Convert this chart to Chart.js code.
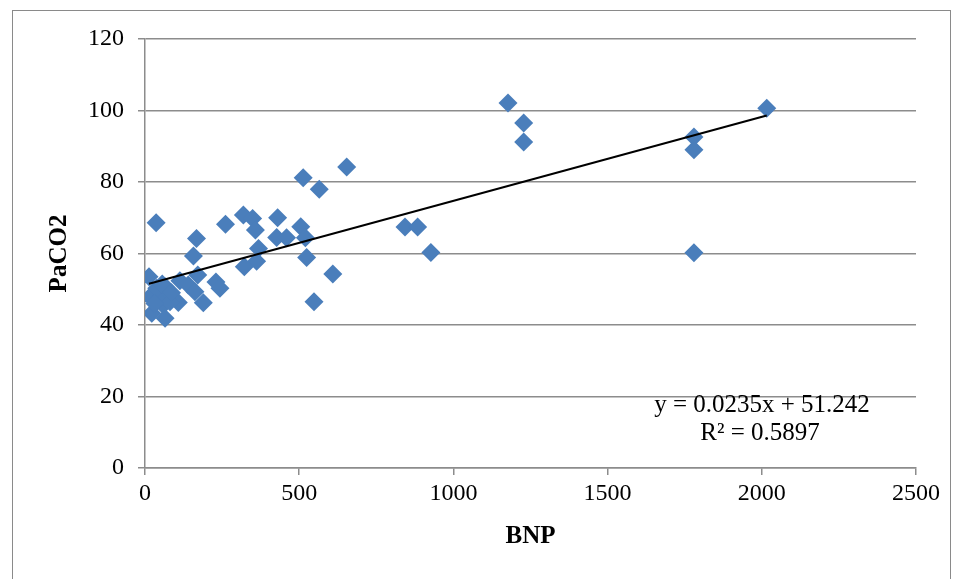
<!DOCTYPE html>
<html>
<head>
<meta charset="utf-8">
<script src="https://cdn.jsdelivr.net/npm/chart.js@4"></script>
<style>
    body { margin: 0; background: #fff; }
    #moldura { position: absolute; left: 12px; top: 10px; width: 937px; height: 600px; border: 1px solid #8a8a8a; }
    #grafico { position: absolute; left: 0; top: 0; }
</style>
</head>
<body>
<div id="moldura"></div>
<canvas id="grafico" width="959" height="579"></canvas>
<script>
// Dados: BNP (x) e PaCO2 (y)
const bnp = [13, 36, 167, 261, 319, 349, 358, 430, 505, 427, 459, 520, 368, 362, 322, 524,
    157, 513, 565, 654, 609, 548, 171, 113, 140, 230, 243, 162, 189, 108, 65, 16,
    54, 59, 22, 65, 38, 81, 56, 86, 32, 843, 884, 927, 1177, 1228, 1228, 1780,
    1780, 1780, 2016]
const paco2 = [53.5, 68.6, 64.2, 68.2, 70.8, 69.8, 66.6, 70.0, 67.5, 64.5, 64.4, 64.4, 61.4, 57.8, 56.3, 58.9,
    59.3, 81.2, 78.0, 84.2, 54.3, 46.5, 54.0, 52.4, 51.2, 52.0, 50.3, 49.3, 46.2, 46.3, 50.7, 47.9,
    47.9, 45.6, 43.3, 41.9, 50.3, 46.5, 51.5, 49.0, 46.0, 67.4, 67.4, 60.3, 102.1, 96.5, 91.2, 92.6,
    89.0, 60.2, 100.6]

// Linha de tendência (regressão linear do Excel)
const inclinacao = 0.0235
const intercepto = 51.242
const r2 = 0.5897

const pontos = bnp.map((x, i) => ({ x: x, y: paco2[i] }))
const xMin = Math.min(...bnp)
const xMax = Math.max(...bnp)
const tendencia = [
    { x: xMin, y: intercepto + inclinacao * xMin },
    { x: xMax, y: intercepto + inclinacao * xMax }
]

const cinza = '#8c8c8c'
const fonte = 'Liberation Serif'

// Plugin simples para escrever a equação da tendência
const equacao = {
    id: 'equacao',
    afterDatasetsDraw(chart) {
        const { ctx, chartArea } = chart
        const cx = chartArea.right - 154
        ctx.save()
        ctx.fillStyle = '#000'
        ctx.font = '25px ' + fonte
        ctx.textAlign = 'center'
        ctx.textBaseline = 'middle'
        ctx.fillText('y = ' + inclinacao + 'x + ' + intercepto, cx, chartArea.bottom - 63)
        ctx.fillText('R² = ' + r2, cx - 2, chartArea.bottom - 35)
        ctx.restore()
    }
}

const ctx = document.getElementById('grafico').getContext('2d')
new Chart(ctx, {
    type: 'scatter',
    data: {
        datasets: [{
            label: 'Tendência',
            data: tendencia,
            showLine: true,
            borderColor: '#000',
            borderWidth: 2,
            pointRadius: 0,
            order: 0
        }, {
            label: 'PaCO2',
            data: pontos,
            pointStyle: 'rectRot',
            pointRadius: 9.5,
            backgroundColor: '#4a7ebb',
            borderColor: '#4a7ebb',
            borderWidth: 0,
            order: 1
        }]
    },
    options: {
        responsive: false,
        animation: false,
        layout: { padding: { top: 39, right: 43, bottom: 0, left: 0 } },
        plugins: {
            legend: { display: false },
            tooltip: { enabled: false }
        },
        scales: {
            x: {
                min: 0,
                max: 2500,
                afterFit: (scale) => { scale.height = 111 },
                ticks: { stepSize: 500, color: '#000', font: { family: fonte, size: 24 }, padding: 4, callback: (v) => String(v) },
                grid: { drawOnChartArea: false, drawTicks: true, tickLength: 7, color: cinza, lineWidth: 1.5 },
                border: { color: cinza, width: 1.5 },
                title: { display: true, text: 'BNP', color: '#000', font: { family: fonte, size: 25, weight: 'bold' }, padding: { top: 0, bottom: 27 } }
            },
            y: {
                min: 0,
                max: 120,
                afterFit: (scale) => { scale.width = 145 },
                ticks: { stepSize: 20, color: '#000', font: { family: fonte, size: 24 }, padding: 14, callback: (v) => String(v) },
                grid: { tickLength: 7, color: cinza, lineWidth: 1.5 },
                border: { color: cinza, width: 1.5 },
                title: { display: true, text: 'PaCO2', color: '#000', font: { family: fonte, size: 25, weight: 'bold' }, padding: { top: 45, bottom: 0 } }
            }
        }
    },
    plugins: [equacao]
})
</script>
</body>
</html>
